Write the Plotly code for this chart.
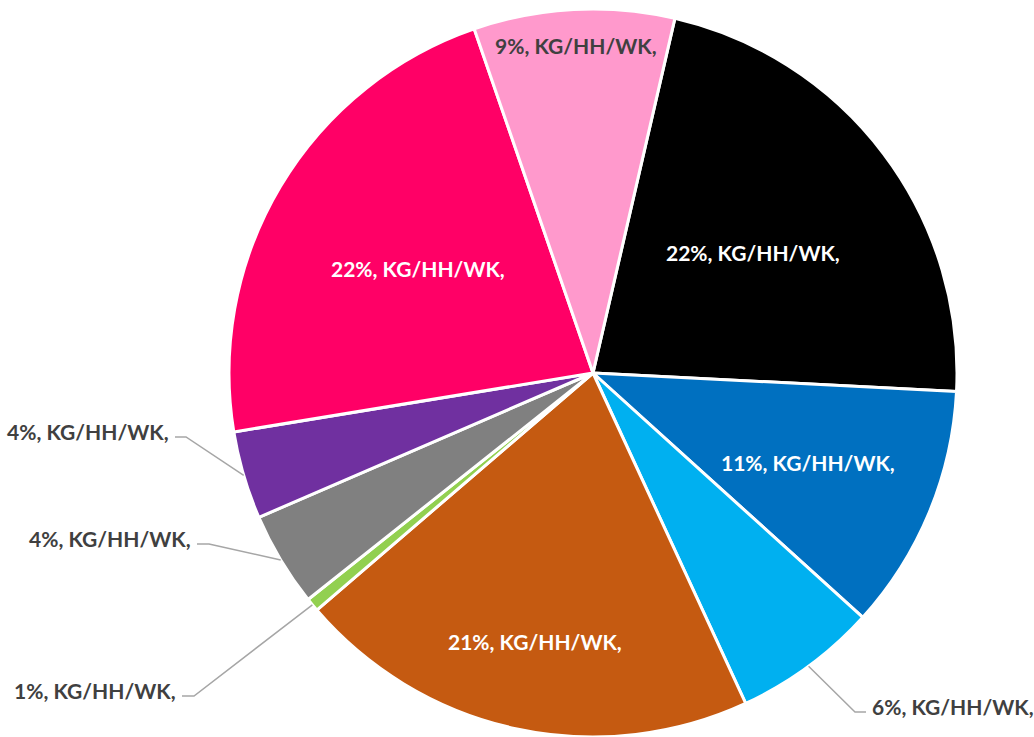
import math
import plotly.graph_objects as go

# ---- data ----
slice_ids = ["s1", "s2", "s3", "s4", "s5", "s6", "s7", "s8", "s9"]
categories = ["KG/HH/WK"] * 9
values = [22.2, 10.9, 6.4, 20.6, 0.6, 4.2, 3.9, 22.3, 8.9]
colors = ["#000000", "#0070C0", "#00B0F0", "#C55A11", "#92D050",
          "#808080", "#7030A0", "#FF0066", "#FF99CC"]

# ---- geometry / style ----
W, H = 1034, 737
CX, CY, R = 593, 373, 364
ROT = 13
FONT = "Lato"
FS = 21
DARK = "#404040"

total = sum(values)
pcts = [round(v / total * 100) for v in values]
label_text = [f"{p}%, {c}," for p, c in zip(pcts, categories)]

# mid angles (clockwise from 12 o'clock)
mids = []
acc = ROT
for v in values:
    span = v / total * 360
    mids.append(acc + span / 2)
    acc += span


def px(x, y):
    return x / W, 1 - y / H


def polar(frac, ang):
    a = math.radians(ang)
    return CX + frac * R * math.sin(a), CY - frac * R * math.cos(a)


fig = go.Figure(go.Pie(
    labels=slice_ids, values=values, sort=False, direction="clockwise",
    rotation=ROT, textinfo="none", hoverinfo="skip", showlegend=False,
    marker=dict(colors=colors, line=dict(color="white", width=3)),
    domain=dict(x=[(CX - R) / W, (CX + R) / W],
                y=[(H - CY - R) / H, (H - CY + R) / H]),
))

annotations = []
shapes = []

# inside labels: index -> (radial fraction, colour)
inside = {0: (0.55, "white"), 1: (0.64, "white"), 3: (0.755, "white"),
          7: (0.56, "white"), 8: (0.90, DARK)}
for i, (f, col) in inside.items():
    x, y = polar(f, mids[i])
    ax, ay = px(x, y)
    annotations.append(dict(x=ax, y=ay, xref="paper", yref="paper",
                            text=f"<b>{label_text[i]}</b>", showarrow=False,
                            font=dict(family=FONT, size=FS, color=col),
                            xanchor="center", yanchor="middle"))

# outside labels with leader lines: index -> (elbow, line end, side)
outside = {6: ((186, 437), (175, 437), "left"),
           5: ((209, 544), (197, 544), "left"),
           4: ((194, 696), (182, 696), "left"),
           2: ((855, 712), (866, 712), "right")}
for i, (elbow, end, side) in outside.items():
    sx, sy = polar(1.0, mids[i])
    p0 = px(sx, sy)
    p1 = px(*elbow)
    p2 = px(*end)
    shapes.append(dict(type="path", xref="paper", yref="paper",
                       path=f"M {p0[0]},{p0[1]} L {p1[0]},{p1[1]} L {p2[0]},{p2[1]}",
                       line=dict(color="#A6A6A6", width=1.5)))
    if side == "left":
        tx, xa = end[0] - 4, "right"
    else:
        tx, xa = end[0] + 4, "left"
    tp = px(tx, end[1] - 6)
    annotations.append(dict(x=tp[0], y=tp[1], xref="paper", yref="paper",
                            text=f"<b>{label_text[i]}</b>", showarrow=False,
                            font=dict(family=FONT, size=FS, color=DARK),
                            xanchor=xa, yanchor="middle"))

fig.update_layout(width=W, height=H, margin=dict(l=0, r=0, t=0, b=0),
                  paper_bgcolor="white", plot_bgcolor="white",
                  annotations=annotations, shapes=shapes)

fig.write_html("out.html", config={"displayModeBar": False},
               post_script="document.body.style.margin='0';"
                           "document.body.style.overflow='hidden';")
